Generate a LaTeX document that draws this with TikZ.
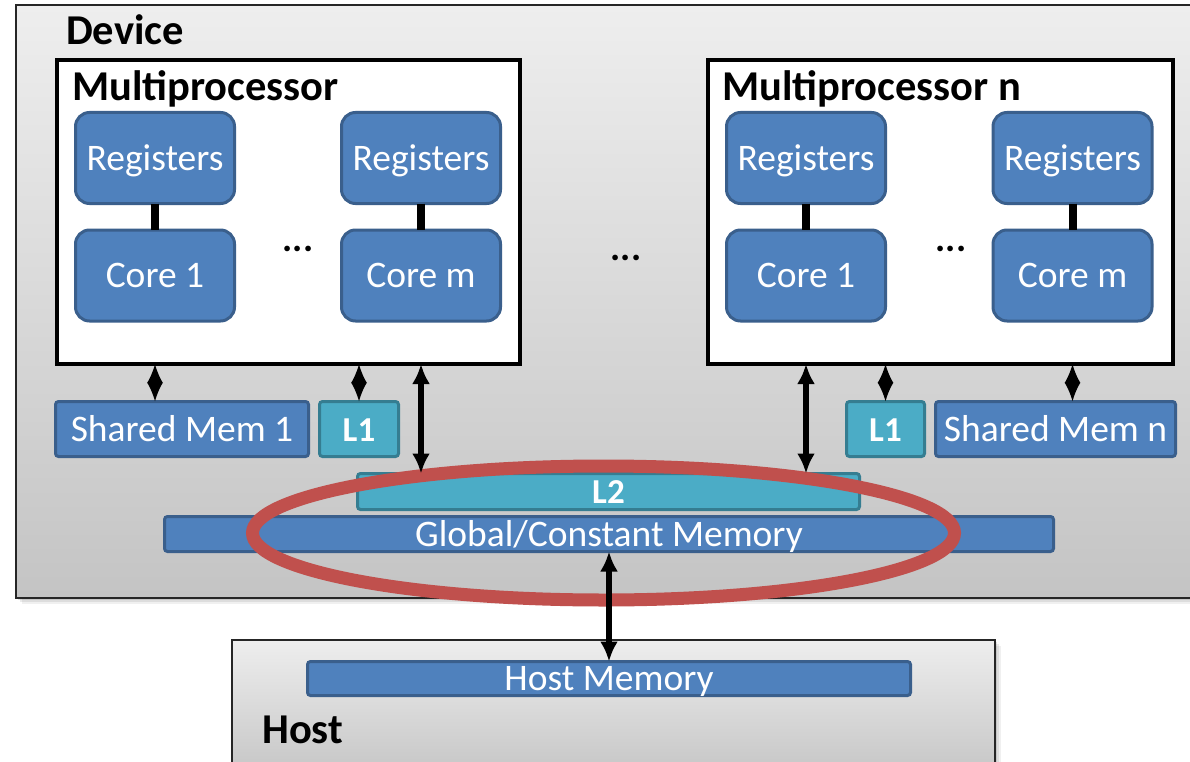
\documentclass[tikz,border=0pt]{standalone}
\usepackage{fontspec}
\setmainfont{Carlito}
\usetikzlibrary{arrows.meta}
\definecolor{blu}{HTML}{4F81BD}
\definecolor{bluD}{HTML}{3A5F8C}
\definecolor{tea}{HTML}{4BACC6}
\definecolor{teaD}{HTML}{357D91}
\definecolor{redE}{HTML}{C0504D}
\definecolor{gtop}{HTML}{EEEEEE}
\definecolor{gbot}{HTML}{C4C4C4}
\tikzset{
  fnt/.style={font=\fontsize{37.5}{44}\selectfont, text height=24.75pt, text depth=0pt},
  core/.style={draw=bluD, line width=3, fill=blu, rounded corners=14, text=white, fnt,
    minimum width=159, minimum height=91, inner sep=0, outer sep=0},
  bar/.style={draw=bluD, line width=3, fill=blu, rounded corners=3, text=white, fnt,
    inner sep=0, outer sep=0},
  tbar/.style={draw=teaD, line width=3, fill=tea, rounded corners=3, text=white,
    font=\fontsize{35}{42}\selectfont\bfseries, text height=24.5pt, text depth=0pt,
    inner sep=0, outer sep=0},
  mpbox/.style={draw=black, line width=4, fill=white, inner sep=0, outer sep=0,
    minimum height=304},
  outer/.style={draw=black!85, line width=1.2, top color=gtop, bottom color=gbot,
    inner sep=0, outer sep=0, anchor=north west},
  title/.style={font=\fontsize{42.5}{50}\selectfont\bfseries, inner sep=0, anchor=base west},
  bigarrow/.style={line width=5.5pt, {Latex[length=20pt,width=18pt]}-{Latex[length=20pt,width=18pt]}},
  smallarrow/.style={line width=2pt, {Latex[length=19pt,width=16pt]}-{Latex[length=19pt,width=16pt]}},
  link/.style={line width=8pt},
  dots/.style={inner sep=0, font=\fontsize{38}{44}\selectfont\bfseries},
}
\begin{document}
\begin{tikzpicture}[x=1pt,y=-1pt]
\useasboundingbox (0,0) rectangle (1190,762);
\clip (0,0) rectangle (1190,762);
% device shadow
\foreach \o/\a in {6/0.06,4/0.08,2/0.1}{
  \fill[black,opacity=\a] (16+\o,5+\o) rectangle (1215,598+\o);
}
\node[outer, minimum width=1200, minimum height=593] (dev) at (16,5) {};
\node[title] (devt) at (66,45) {Device};
% host
\foreach \o/\a in {6/0.06,4/0.08,2/0.1}{
  \fill[black,opacity=\a] (232+\o,640+\o) rectangle (995+\o,780);
}
\node[outer, minimum width=763, minimum height=140] (host) at (232,640) {};
\node[title] (hostt) at (262,743) {Host};

% multiprocessors
\node[mpbox, minimum width=463] (mp1) at (288.5,212) {};
\node[mpbox, minimum width=465] (mp2) at (940.5,212) {};
\node[title] (mp1t) at (72,101) {Multiprocessor};
\node[title] (mp2t) at (722,101) {Multiprocessor n};

% registers and cores
\node[core] (r1) at (155,158) {Registers};
\node[core] (c1) at (155,275.5) {Core 1};
\node[core] (r2) at (421,158) {Registers};
\node[core] (c2) at (421,275.5) {Core m};
\node[core] (r3) at (806,158) {Registers};
\node[core] (c3) at (806,275.5) {Core 1};
\node[core] (r4) at (1072.5,158) {Registers};
\node[core] (c4) at (1072.5,275.5) {Core m};
\draw[link] (r1) -- (c1);
\draw[link] (r2) -- (c2);
\draw[link] (r3) -- (c3);
\draw[link] (r4) -- (c4);

\node[dots] (d1) at (298,249) {...};
\node[dots] (d2) at (626,258) {...};
\node[dots] (d3) at (951,249) {...};

% memories
\node[bar, minimum width=253, minimum height=55] (sm1) at (182,429) {Shared Mem 1};
\node[tbar, minimum width=79, minimum height=55] (l1a) at (359,429) {L1};
\node[tbar, minimum width=78, minimum height=55] (l1b) at (885.5,429) {L1};
\node[bar, minimum width=240, minimum height=55] (smn) at (1055.5,429) {Shared Mem n};
\node[tbar, minimum width=502, minimum height=36] (l2) at (608.5,491.5) {L2};
\node[bar, minimum width=889, minimum height=35] (gm) at (609,534) {Global/Constant Memory};
\node[bar, minimum width=603, minimum height=34] (hm) at (609,678.5) {Host Memory};

% highlight
\draw[redE, line width=13] (603.5,533) ellipse [x radius=351, y radius=67];

% connectors
\draw[smallarrow] (mp1.south -| c1.south) -- (sm1.north -| c1.south);
\draw[smallarrow] (mp1.south -| l1a.north) -- (l1a.north);
\draw[bigarrow] (mp1.south -| c2.south) -- (l2.north -| c2.south);
\draw[bigarrow] (mp2.south -| c3.south) -- (l2.north -| c3.south);
\draw[smallarrow] (mp2.south -| l1b.north) -- (l1b.north);
\draw[smallarrow] (mp2.south -| c4.south) -- (smn.north -| c4.south);
\draw[bigarrow] (gm.south) -- (hm.north);
\end{tikzpicture}
\end{document}
